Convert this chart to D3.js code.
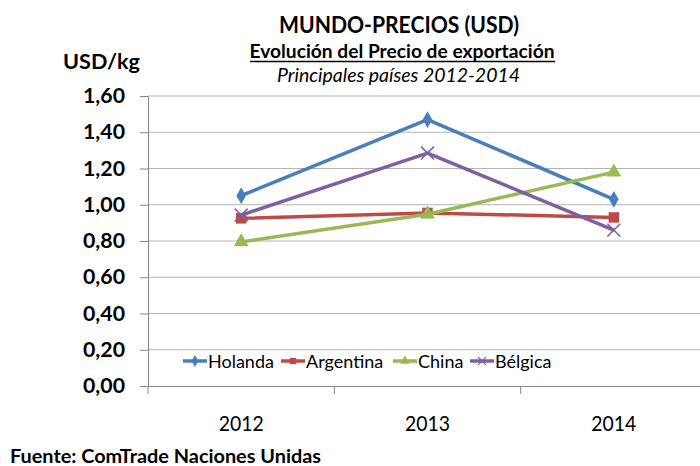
<!DOCTYPE html>
<html>
<head>
<meta charset="utf-8">
<script src="https://cdn.jsdelivr.net/npm/d3@7"></script>
<style>
  body { margin: 0; background: #fff; }
  svg { font-family: Lato, "Open Sans", sans-serif; }
</style>
</head>
<body>
<div id="chart"></div>
<script>
// data
const years = ["2012", "2013", "2014"];
const holanda = [1.05, 1.47, 1.03];
const argentina = [0.925, 0.955, 0.93];
const china = [0.795, 0.948, 1.18];
const belgica = [0.943, 1.285, 0.86];
const yTicks = [0, 0.2, 0.4, 0.6, 0.8, 1.0, 1.2, 1.4, 1.6];

const series = [
  { name: "Holanda", values: holanda, color: "#4a7ebb", marker: "diamond" },
  { name: "Argentina", values: argentina, color: "#be4b48", marker: "square" },
  { name: "China", values: china, color: "#98b954", marker: "triangle" },
  { name: "Bélgica", values: belgica, color: "#7d60a0", marker: "cross" }
];

const W = 700, H = 466;
const plotL = 148, plotR = 707, plotT = 96, plotB = 386;

const svg = d3.select("#chart").append("svg")
  .attr("width", W)
  .attr("height", H);

// squeeze Lato to the narrower look of the original font
function fit(sel, w) {
  sel.attr("textLength", w).attr("lengthAdjust", "spacingAndGlyphs");
}

const x = d3.scaleBand().domain(years).range([plotL, plotR]);
const y = d3.scaleLinear().domain([0, 1.6]).range([plotB, plotT]);

// gridlines
svg.append("g")
  .selectAll("line")
  .data(yTicks.slice(1))
  .enter().append("line")
    .attr("x1", plotL).attr("x2", plotR)
    .attr("y1", d => y(d)).attr("y2", d => y(d))
    .attr("stroke", "#b3b3b3")
    .attr("stroke-width", 1.2);

// y axis
const fmt = d => d3.format(".2f")(d).replace(".", ",");
const yAxis = svg.append("g")
  .attr("transform", "translate(" + plotL + ",0)")
  .call(d3.axisLeft(y).tickValues(yTicks).tickFormat(fmt).tickSize(8).tickSizeOuter(0).tickPadding(15));
yAxis.select(".domain").attr("stroke", "#868686");
yAxis.selectAll(".tick line").attr("stroke", "#868686");
yAxis.selectAll("text")
  .attr("font-family", "Lato, sans-serif")
  .attr("font-size", 21)
  .attr("font-weight", "bold")
  .attr("fill", "#000")
  .call(fit, 42);

// x axis
const xAxis = svg.append("g")
  .attr("transform", "translate(0," + plotB + ")")
  .call(d3.axisBottom(x).tickSize(0).tickPadding(30));
xAxis.select(".domain").attr("stroke", "#868686");
xAxis.selectAll("text")
  .attr("font-family", "Lato, sans-serif")
  .attr("font-size", 21)
  .attr("fill", "#000")
  .call(fit, 45);
svg.append("g")
  .selectAll("line")
  .data(years)
  .enter().append("line")
    .attr("x1", d => x(d)).attr("x2", d => x(d))
    .attr("y1", plotB).attr("y2", plotB + 8)
    .attr("stroke", "#868686");

const cx = d => x(d) + x.bandwidth() / 2;

const symbolTypes = {
  diamond: d3.symbolDiamond,
  square: d3.symbolSquare,
  triangle: d3.symbolTriangle,
  cross: d3.symbolX
};
const symbolSizes = { diamond: 80, square: 110, triangle: 95, cross: 110 };

const line = d3.line()
  .x((d, i) => cx(years[i]))
  .y(d => y(d));

series.forEach(s => {
  svg.append("path")
    .datum(s.values)
    .attr("d", line)
    .attr("fill", "none")
    .attr("stroke", s.color)
    .attr("stroke-width", 3.5)
    .attr("stroke-linejoin", "round");
  svg.append("g")
    .selectAll("path")
    .data(s.values)
    .enter().append("path")
      .attr("transform", (d, i) => "translate(" + cx(years[i]) + "," + y(d) + ")")
      .attr("d", d3.symbol().type(symbolTypes[s.marker]).size(symbolSizes[s.marker]))
      .attr("fill", s.marker === "cross" ? "none" : s.color)
      .attr("stroke", s.color)
      .attr("stroke-width", s.marker === "cross" ? 1.5 : 0);
});

// legend
const legendX = [183, 281, 393, 470];
const legend = svg.append("g");
series.forEach((s, i) => {
  const g = legend.append("g").attr("transform", "translate(" + legendX[i] + ",361)");
  g.append("line").attr("x1", 0).attr("x2", 24)
    .attr("stroke", s.color).attr("stroke-width", 3.5);
  g.append("path")
    .attr("transform", "translate(12,0)")
    .attr("d", d3.symbol().type(symbolTypes[s.marker]).size(40))
    .attr("fill", s.marker === "cross" ? "none" : s.color)
    .attr("stroke", s.color)
    .attr("stroke-width", s.marker === "cross" ? 1.2 : 0);
  g.append("text")
    .attr("x", 25).attr("y", 7)
    .attr("font-size", 18)
    .attr("fill", "#000")
    .text(s.name);
});

// titles
svg.append("text")
  .attr("x", 399).attr("y", 33)
  .attr("text-anchor", "middle")
  .attr("font-size", 23).attr("font-weight", "bold")
  .text("MUNDO-PRECIOS (USD)")
  .call(fit, 240);
svg.append("text")
  .attr("x", 402).attr("y", 58)
  .attr("text-anchor", "middle")
  .attr("font-size", 18).attr("font-weight", "bold")
  .text("Evolución del Precio de exportación")
  .call(fit, 305);
svg.append("line")
  .attr("x1", 250).attr("x2", 555)
  .attr("y1", 61.5).attr("y2", 61.5)
  .attr("stroke", "#000").attr("stroke-width", 1.4);
svg.append("text")
  .attr("x", 398.5).attr("y", 82)
  .attr("text-anchor", "middle")
  .attr("font-size", 19).attr("font-style", "italic")
  .text("Principales países 2012-2014")
  .call(fit, 243);
svg.append("text")
  .attr("x", 63).attr("y", 69)
  .attr("font-size", 21).attr("font-weight", "bold")
  .text("USD/kg")
  .call(fit, 77);
svg.append("text")
  .attr("x", 10).attr("y", 463)
  .attr("font-size", 18).attr("font-weight", "bold")
  .text("Fuente: ComTrade Naciones Unidas")
  .call(fit, 311);
</script>
</body>
</html>
